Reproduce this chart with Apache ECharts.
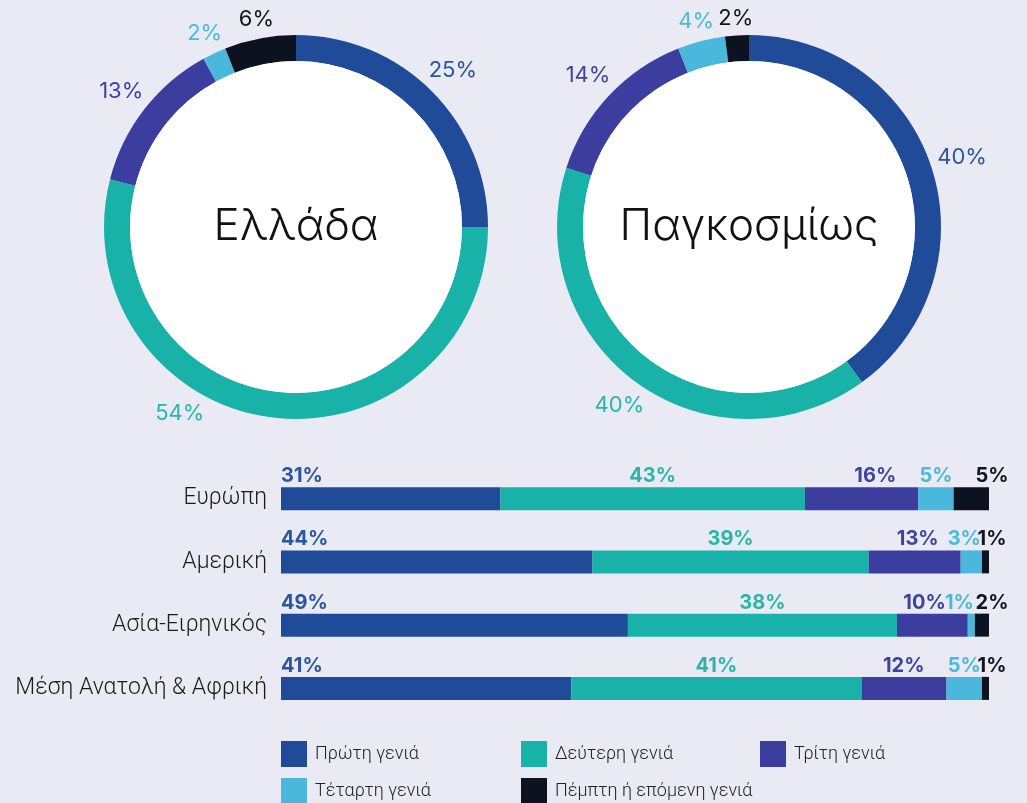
<!DOCTYPE html>
<html>
<head>
<meta charset="utf-8">
<script src="https://cdn.jsdelivr.net/npm/echarts@6/dist/echarts.min.js"></script>
<style>
html,body{margin:0;padding:0;background:#eaeaf4;}
#myChart{width:1027px;height:803px;}
</style>
</head>
<body>
<div id="myChart"></div>
<script>
var generations = ['Πρώτη γενιά', 'Δεύτερη γενιά', 'Τρίτη γενιά', 'Τέταρτη γενιά', 'Πέμπτη ή επόμενη γενιά'];
var greeceShares = [25, 54, 13, 2, 6];
var globalShares = [40, 40, 14, 4, 2];

var regions = ['Ευρώπη', 'Αμερική', 'Ασία-Ειρηνικός', 'Μέση Ανατολή & Αφρική'];
var firstGen = [31, 44, 49, 41];
var secondGen = [43, 39, 38, 41];
var thirdGen = [16, 13, 10, 12];
var fourthGen = [5, 3, 1, 5];
var fifthGen = [5, 1, 2, 1];

var colors = ['#1f4b99', '#19b2a8', '#3b3e9f', '#49b8dc', '#0c1220'];
var textColors = ['#2a55a0', '#2ab5ab', '#3f43a0', '#4bb9dc', '#111522'];

var OUTER = 192, INNER = 166, LABEL_GAP = 5;

// one donut = coloured ring + white centre with title + transparent ring carrying the % labels
// angleTweaks: dataIndex -> angle (deg, clockwise from top) where that label sits instead of mid-angle
function donut(center, shares, title, angleTweaks) {
  angleTweaks = angleTweaks || {};
  var ring = shares.map(function (v, i) {
    return { value: v, name: generations[i], itemStyle: { color: colors[i] } };
  });
  var labels = shares.map(function (v, i) {
    return { value: v, name: generations[i], label: { color: textColors[i] } };
  });
  return [
    {
      type: 'pie', center: center, radius: [INNER, OUTER], silent: true,
      label: { show: false }, labelLine: { show: false },
      emphasis: { disabled: true }, data: ring
    },
    {
      type: 'pie', center: center, radius: [0, INNER], silent: true,
      itemStyle: { color: '#ffffff' }, emphasis: { disabled: true },
      label: {
        show: true, position: 'center', formatter: '{b}',
        fontFamily: 'Inter', fontWeight: 300, fontSize: 44, color: '#111111'
      },
      data: [{ value: 1, name: title }]
    },
    {
      type: 'pie', center: center, radius: [196, 234], silent: true,
      avoidLabelOverlap: false,
      itemStyle: { color: 'rgba(0,0,0,0)' }, emphasis: { disabled: true },
      label: {
        show: true, position: 'inside', rotate: 0, formatter: '{c}%',
        fontFamily: 'Inter', fontWeight: 400, fontSize: 22
      },
      labelLine: { show: false },
      // push each label out along its angle until its box clears the ring by LABEL_GAP
      labelLayout: function (p) {
        var r = p.labelRect;
        var lx = r.x + r.width / 2, ly = r.y + r.height / 2;
        var ux, uy;
        if (angleTweaks[p.dataIndex] != null) {
          var a = angleTweaks[p.dataIndex] * Math.PI / 180;
          ux = Math.sin(a); uy = -Math.cos(a);
        } else {
          var vx = lx - center[0], vy = ly - center[1], n = Math.sqrt(vx * vx + vy * vy);
          ux = vx / n; uy = vy / n;
        }
        var half = Math.abs(ux) * r.width / 2 + Math.abs(uy) * r.height / 2;
        var d = OUTER + LABEL_GAP + half;
        return { dx: center[0] + ux * d - lx, dy: center[1] + uy * d - ly };
      },
      data: labels
    }
  ];
}

var barValues = [firstGen, secondGen, thirdGen, fourthGen, fifthGen];
var barLabelPos = [
  { position: [0, 0], align: 'left', verticalAlign: 'bottom', offset: [0, -1] },
  { position: 'top', distance: 1 },
  { position: ['100%', 0], align: 'right', verticalAlign: 'bottom', offset: [-22, -1] },
  { position: ['100%', 0], align: 'right', verticalAlign: 'bottom', offset: [-1, -1] },
  { position: ['100%', 0], align: 'center', verticalAlign: 'bottom', offset: [3, -1] }
];

var barSeries = barValues.map(function (vals, i) {
  var lab = {
    show: true, formatter: '{c}%', color: textColors[i],
    fontFamily: 'Inter', fontWeight: 700, fontSize: 20
  };
  for (var k in barLabelPos[i]) lab[k] = barLabelPos[i][k];
  return {
    name: generations[i], type: 'bar', stack: 'total', barWidth: 23,
    itemStyle: { color: colors[i] }, silent: true,
    label: lab, data: vals
  };
});

var legendText = {
  fontFamily: 'Roboto', fontWeight: 300, fontSize: 18, color: '#222222', padding: [0, 0, 0, 3]
};
function legendCol(left, names) {
  return {
    data: names, orient: 'vertical', left: left, top: 741, height: 90, padding: 0,
    itemWidth: 26, itemHeight: 26, itemGap: 11, icon: 'rect',
    selectedMode: false, textStyle: legendText
  };
}

var option = {
  backgroundColor: '#eaeaf4',
  animation: false,
  legend: [
    legendCol(281, [generations[0], generations[3]]),
    legendCol(521, [generations[1], generations[4]]),
    legendCol(760, [generations[2]])
  ],
  grid: { left: 281, right: 38, top: 467, height: 253, outerBoundsMode: 'none' },
  xAxis: { type: 'value', min: 0, max: 100, show: false },
  yAxis: {
    type: 'category', data: regions, inverse: true,
    axisLine: { show: false }, axisTick: { show: false }, splitLine: { show: false },
    axisLabel: {
      margin: 14, fontFamily: 'Roboto', fontWeight: 300, fontSize: 23, color: '#1a1a1a'
    }
  },
  series: []
    .concat(donut([296, 227], greeceShares, 'Ελλάδα', { 1: 212 }))
    .concat(donut([749, 227], globalShares, 'Παγκοσμίως'))
    .concat(barSeries)
};

var myChart = echarts.init(document.getElementById('myChart'));
myChart.setOption(option);
</script>
</body>
</html>
